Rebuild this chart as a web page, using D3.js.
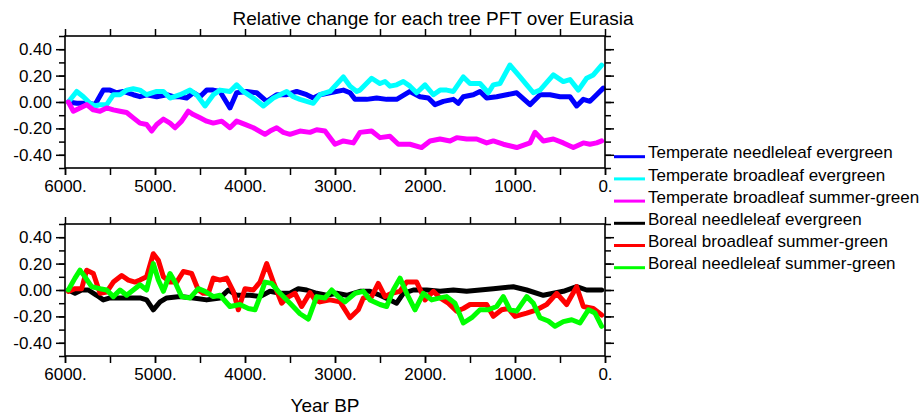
<!DOCTYPE html>
<html><head><meta charset="utf-8">
<script src="https://cdn.jsdelivr.net/npm/d3@7"></script>
<style>body{margin:0;background:#fff}svg{font-family:"Liberation Sans",Arial,Helvetica,sans-serif}</style>
</head><body><svg id="c" width="921" height="420"></svg>
<script>
// [year BP, relative change]
const tempNeedleEver = [[5963,0],[5870,-0.01],[5722,-0.01],[5667,-0.02],[5574,0.09],[5500,0.09],[5426,0.07],[5352,0.08],[5241,0.055],[5167,0.04],[5093,0.055],[4981,0.04],[4870,0.055],[4796,0.04],[4722,0.04],[4648,0.03],[4574,0.07],[4500,0.04],[4426,0.09],[4352,0.09],[4278,0.08],[4167,-0.045],[4093,0.07],[3981,0.08],[3870,0.07],[3759,0.005],[3648,0.055],[3537,0.055],[3426,0.08],[3315,0.055],[3241,0.03],[3167,0.055],[3056,0.07],[2907,0.09],[2833,0.07],[2778,0.02],[2648,0.02],[2537,0.03],[2426,0.02],[2315,0.02],[2167,0.08],[2056,0.04],[1963,0.03],[1889,-0.02],[1796,0.005],[1685,0.02],[1630,-0.01],[1574,0.04],[1463,0.055],[1389,0.08],[1315,0.03],[1204,0.04],[1093,0.055],[981,0.07],[833,-0.02],[722,0.055],[611,0.055],[500,0.04],[389,0.04],[315,-0.03],[241,0.02],[167,0.005],[93,0.055],[19,0.105]];
const tempBroadEver = [[5963,0],[5870,0.08],[5796,0.04],[5722,-0.01],[5667,-0.03],[5611,-0.02],[5537,-0.02],[5463,0.055],[5389,0.055],[5315,0.09],[5241,0.1],[5167,0.09],[5093,0.055],[4981,0.08],[4907,0.08],[4833,0.03],[4722,0.055],[4611,0.09],[4537,0.055],[4444,-0.03],[4352,0.055],[4278,0.09],[4167,0.08],[4093,0.13],[4019,0.08],[3907,0.03],[3796,-0.03],[3685,0.03],[3537,0.08],[3463,0.04],[3389,0.02],[3241,-0.01],[3167,0.055],[3056,0.08],[2907,0.19],[2833,0.12],[2759,0.08],[2722,0.09],[2593,0.18],[2500,0.14],[2444,0.155],[2389,0.12],[2315,0.13],[2241,0.155],[2167,0.12],[2093,0.07],[2000,0.13],[1907,0.055],[1833,0.09],[1759,0.09],[1685,0.08],[1574,0.19],[1500,0.14],[1389,0.14],[1296,0.07],[1241,0.13],[1167,0.14],[1056,0.28],[944,0.19],[870,0.13],[796,0.07],[722,0.09],[574,0.205],[463,0.155],[389,0.17],[296,0.09],[204,0.18],[130,0.205],[37,0.28]];
const tempBroadSummer = [[5963,0],[5907,-0.07],[5833,-0.045],[5759,-0.02],[5685,-0.06],[5611,-0.07],[5537,-0.045],[5463,-0.06],[5389,-0.07],[5315,-0.08],[5241,-0.12],[5167,-0.16],[5093,-0.17],[5037,-0.22],[4981,-0.17],[4907,-0.13],[4833,-0.16],[4778,-0.195],[4704,-0.145],[4630,-0.07],[4574,-0.095],[4500,-0.12],[4426,-0.145],[4352,-0.16],[4259,-0.145],[4167,-0.195],[4093,-0.145],[4000,-0.17],[3907,-0.195],[3778,-0.245],[3722,-0.22],[3648,-0.195],[3574,-0.23],[3500,-0.245],[3389,-0.22],[3278,-0.23],[3204,-0.21],[3111,-0.22],[3000,-0.32],[2907,-0.295],[2796,-0.31],[2722,-0.23],[2593,-0.22],[2500,-0.27],[2389,-0.26],[2296,-0.32],[2167,-0.32],[2037,-0.345],[1944,-0.295],[1833,-0.28],[1722,-0.295],[1648,-0.27],[1537,-0.28],[1426,-0.28],[1315,-0.31],[1241,-0.295],[1130,-0.32],[981,-0.345],[833,-0.31],[778,-0.23],[685,-0.295],[574,-0.28],[463,-0.31],[352,-0.345],[241,-0.31],[167,-0.32],[93,-0.31],[37,-0.295]];
const borNeedleEver = [[5963,0],[5889,-0.025],[5815,0],[5741,0],[5648,-0.04],[5574,-0.075],[5500,-0.06],[5389,-0.06],[5278,-0.06],[5167,-0.06],[5093,-0.075],[5019,-0.15],[4944,-0.09],[4870,-0.06],[4722,-0.05],[4574,-0.06],[4426,-0.075],[4278,-0.06],[4185,0],[4093,-0.04],[3944,-0.04],[3833,-0.05],[3722,-0.01],[3611,-0.025],[3500,-0.025],[3407,0.01],[3315,0],[3204,-0.025],[3093,-0.04],[2981,-0.025],[2870,-0.04],[2722,-0.01],[2611,-0.01],[2500,-0.04],[2389,-0.075],[2315,-0.1],[2241,-0.025],[2130,0],[1981,0],[1833,-0.01],[1685,0],[1537,-0.01],[1389,0],[1241,0.01],[1019,0.025],[870,0],[685,-0.04],[574,-0.025],[463,-0.01],[315,0.025],[204,0],[37,0]];
const borBroadSummer = [[5963,-0.01],[5889,0.01],[5815,0.01],[5759,0.15],[5685,0.125],[5611,-0.025],[5537,-0.015],[5463,0.06],[5370,0.11],[5296,0.075],[5222,0.06],[5167,0.075],[5093,0.1],[5019,0.275],[4963,0.225],[4907,0.1],[4833,0.06],[4759,0.06],[4685,0.14],[4593,0.125],[4519,0],[4463,-0.025],[4407,-0.025],[4352,0.09],[4278,0.075],[4204,0.09],[4130,-0.01],[4074,-0.15],[4000,0.01],[3907,0],[3833,0.06],[3759,0.2],[3685,0.06],[3593,-0.1],[3537,-0.06],[3444,-0.025],[3370,-0.125],[3278,-0.02],[3222,-0.075],[3167,-0.09],[3056,-0.075],[2944,-0.09],[2833,-0.21],[2741,-0.15],[2685,-0.06],[2593,-0.05],[2519,0.05],[2444,-0.05],[2370,-0.025],[2278,-0.01],[2204,0.06],[2093,0.06],[2000,-0.075],[1907,-0.01],[1833,-0.06],[1741,-0.1],[1648,-0.16],[1574,-0.14],[1500,-0.11],[1407,-0.11],[1315,-0.11],[1241,-0.2],[1148,-0.15],[1074,-0.14],[1000,-0.2],[870,-0.175],[759,-0.15],[648,-0.11],[537,-0.025],[426,-0.11],[315,0.025],[241,-0.125],[130,-0.14],[37,-0.19]];
const borNeedleSummer = [[5963,0],[5889,0.09],[5833,0.15],[5778,0.1],[5704,0.025],[5611,0.01],[5537,0],[5463,-0.05],[5389,0],[5315,-0.04],[5241,0],[5167,0.04],[5093,0],[5019,0.2],[4963,0.075],[4907,-0.01],[4833,0.125],[4778,0.06],[4704,-0.05],[4611,-0.06],[4519,0.01],[4444,-0.01],[4352,-0.05],[4278,-0.04],[4167,-0.125],[4056,-0.11],[3963,-0.14],[3889,-0.15],[3833,-0.05],[3778,0.06],[3704,0.05],[3611,-0.025],[3500,-0.1],[3389,-0.18],[3296,-0.22],[3204,-0.05],[3111,-0.06],[3037,0],[2963,-0.05],[2889,-0.09],[2778,-0.025],[2685,-0.01],[2611,-0.075],[2500,-0.11],[2426,-0.125],[2352,0],[2278,0.09],[2204,-0.025],[2111,-0.15],[2019,-0.025],[1926,-0.075],[1833,-0.06],[1759,-0.05],[1667,-0.1],[1574,-0.25],[1481,-0.21],[1389,-0.15],[1296,-0.15],[1204,-0.125],[1130,-0.05],[1056,-0.15],[981,-0.16],[870,-0.05],[796,-0.1],[722,-0.21],[630,-0.235],[556,-0.275],[463,-0.24],[370,-0.225],[278,-0.25],[185,-0.15],[111,-0.175],[37,-0.275]];

const seriesNames = ["Temperate needleleaf evergreen","Temperate broadleaf evergreen","Temperate broadleaf summer-green","Boreal needleleaf evergreen","Boreal broadleaf summer-green","Boreal needleleaf summer-green"];
const seriesColors = ["#0000ff","#00ffff","#ff00ff","#000000","#ff0000","#00ff00"];
const xTickValues = [6000,5000,4000,3000,2000,1000,0];
const xTickLabels = ["6000.","5000.","4000.","3000.","2000.","1000.","0."];
const yTickValues = [0.4,0.2,0,-0.2,-0.4];
const yTickLabels = ["0.40","0.20","0.00","-0.20","-0.40"];
const titleText = "Relative change for each tree PFT over Eurasia";
const xTitle = "Year BP";

const svg = d3.select("#c");
const L = 65, R = 605;
const x = d3.scaleLinear().domain([6000,0]).range([L,R]);
const panels = [
  {top:36, bottom:168, data:[tempNeedleEver,tempBroadEver,tempBroadSummer], idx:[0,1,2]},
  {top:224, bottom:356, data:[borNeedleEver,borBroadSummer,borNeedleSummer], idx:[3,4,5]}
];
const minorX = d3.range(0,6001,500);
const minorY = d3.range(-5,6).map(d=>d/10);
const fs = 17;

svg.append("text").attr("x",433).attr("y",25).attr("text-anchor","middle")
  .attr("font-size",19).attr("fill","#000").text(titleText);

panels.forEach(p=>{
  const y = d3.scaleLinear().domain([-0.5,0.5]).range([p.bottom,p.top]);
  const g = svg.append("g");
  const line = d3.line().x(d=>x(d[0])).y(d=>y(d[1]));
  p.data.forEach((s,i)=>{
    g.append("path").datum(s).attr("d",line).attr("fill","none")
      .attr("stroke",seriesColors[p.idx[i]]).attr("stroke-width",5)
      .attr("stroke-linejoin","round").attr("stroke-linecap","round");
  });
  const axB = d3.axisBottom(x).tickValues(minorX).tickSize(7).tickFormat("");
  const axT = d3.axisTop(x).tickValues(minorX).tickSize(7).tickFormat("");
  const axLmin = d3.axisLeft(y).tickValues(minorY).tickSize(6).tickFormat("");
  const axRmin = d3.axisRight(y).tickValues(minorY).tickSize(6).tickFormat("");
  const axL = d3.axisLeft(y).tickValues(yTickValues).tickSize(9).tickPadding(4)
     .tickFormat((d,i)=>yTickLabels[i]);
  const axR = d3.axisRight(y).tickValues(yTickValues).tickSize(9).tickFormat("");
  const axBl = d3.axisBottom(x).tickValues(xTickValues).tickSize(7).tickPadding(5)
     .tickFormat((d,i)=>xTickLabels[i]);
  const mk = (ax,tr)=>{const a=g.append("g").attr("transform",tr).call(ax);
    a.select(".domain").remove();
    a.selectAll("line").attr("stroke","#000").attr("stroke-width",1.5);
    a.selectAll("text").attr("font-size",fs).attr("fill","#000").attr("font-family",null);
    return a;};
  mk(axB,`translate(0,${p.bottom})`);
  mk(axT,`translate(0,${p.top})`);
  mk(axLmin,`translate(${L},0)`);
  mk(axRmin,`translate(${R},0)`);
  mk(axL,`translate(${L},0)`);
  mk(axR,`translate(${R},0)`);
  mk(axBl,`translate(0,${p.bottom})`);
  g.append("rect").attr("x",L).attr("y",p.top).attr("width",R-L).attr("height",p.bottom-p.top)
    .attr("fill","none").attr("stroke","#000").attr("stroke-width",1.6);
});

svg.append("text").attr("x",325).attr("y",412).attr("text-anchor","middle")
  .attr("font-size",19).attr("fill","#000").text(xTitle);

const lg = svg.append("g");
seriesNames.forEach((n,i)=>{
  const ly = 156.7 + i*22.2;
  lg.append("line").attr("x1",614).attr("x2",645).attr("y1",ly).attr("y2",ly)
    .attr("stroke",seriesColors[i]).attr("stroke-width",3);
  lg.append("text").attr("x",648).attr("y",ly+1.7).attr("font-size",17).attr("fill","#000").text(n);
});
</script></body></html>
